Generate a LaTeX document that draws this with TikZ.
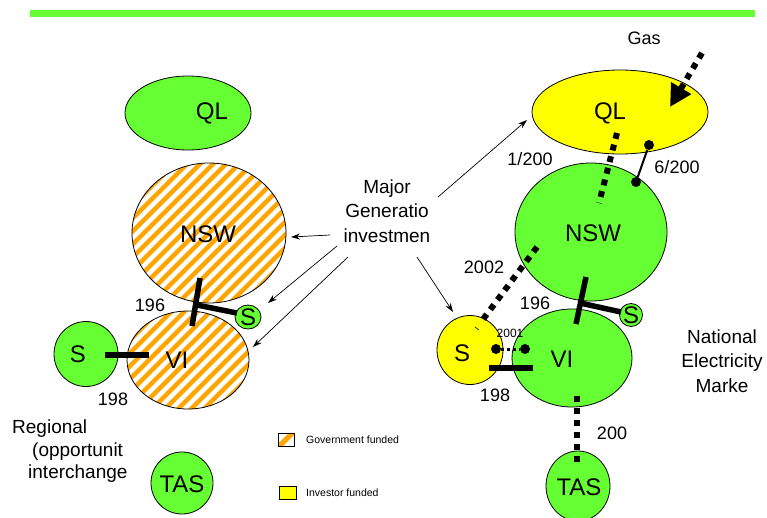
\documentclass[tikz,border=0pt]{standalone}
\usepackage{fontspec}
\setmainfont{Liberation Sans}
\usetikzlibrary{arrows.meta,shapes.geometric,calc}
\definecolor{grn}{HTML}{66FF33}
\definecolor{ylw}{HTML}{FFFF00}
\definecolor{orng}{HTML}{FFA500}
\tikzset{
  region/.style={ellipse, draw=black, line width=0.8pt, inner sep=0pt},
  greenreg/.style={region, fill=grn},
  yellowreg/.style={region, fill=ylw},
  hatched/.style={region, fill=white, path picture={
      \foreach \k in {-30,...,30}{
        \draw[orng, line width=4.5pt] ($(path picture bounding box.center)+(\k*13-170,170)$) -- ++(340,-340);
      }}},
  regtext/.style={font=\fontsize{24}{28}\selectfont, inner sep=0pt},
  lbl/.style={font=\fontsize{18}{22}\selectfont, inner sep=0pt},
  bigtxt/.style={font=\fontsize{19}{24.5}\selectfont, align=center, inner sep=0pt},
  legtxt/.style={font=\fontsize{10.5}{12}\selectfont, anchor=west, inner sep=0pt},
  bar/.style={line width=5.5pt},
  dots/.style={line width=6pt, dash pattern=on 6pt off 6pt},
  fine/.style={line width=3pt, dash pattern=on 3pt off 3pt},
  arr/.style={line width=0.7pt, -{Stealth[length=9pt,width=6pt]}},
  dot/.style={circle, fill=black, inner sep=0pt, minimum size=10pt}
}
\begin{document}
\begin{tikzpicture}[x=1pt,y=-1pt]
\useasboundingbox (0,0) rectangle (767,517);
\fill[grn] (30,10) rectangle (755,17);

% ---------- left side shapes ----------
\node[greenreg, minimum width=126pt, minimum height=74pt] (qlL) at (188,113) {};
\node[hatched, minimum width=154pt, minimum height=140pt] (nswL) at (209,233) {};
\node[hatched, minimum width=122pt, minimum height=98pt] (viL) at (188,360) {};
\node[greenreg, minimum width=26pt, minimum height=24pt] (ssL) at (248,317) {};
\node[greenreg, minimum width=64pt, minimum height=65pt] (sL) at (86,354) {};
\node[greenreg, minimum width=62pt, minimum height=62pt] (tasL) at (182,483) {};

% ---------- right side shapes ----------
\node[yellowreg, minimum width=176pt, minimum height=84pt] (qlR) at (620,112) {};
\node[greenreg, minimum width=152pt, minimum height=138pt] (nswR) at (591,232) {};
\node[greenreg, minimum width=120pt, minimum height=98pt] (viR) at (572,358) {};
\node[yellowreg, minimum width=66pt, minimum height=69pt] (sR) at (470,350) {};
\node[greenreg, minimum width=23pt, minimum height=23pt] (ssR) at (631,315) {};
\node[greenreg, minimum width=64pt, minimum height=70pt] (tasR) at (578,486) {};

% ---------- left connectors ----------
\coordinate (bLa) at (200,278);
\coordinate (bLb) at (192,326);
\coordinate (bLc) at (197,305);
\coordinate (bLd) at (237,313);
\draw[bar] (bLa) -- (bLb);
\draw[bar] (bLc) -- (bLd);
\coordinate (sLa) at (105,355);
\coordinate (sLb) at (149,355);
\draw[bar] (sLa) -- (sLb);

% ---------- right connectors ----------
\coordinate (bRa) at (586,277);
\coordinate (bRb) at (576,324);
\coordinate (bRc) at (580,303);
\coordinate (bRd) at (621,312);
\draw[bar] (bRa) -- (bRb);
\draw[bar] (bRc) -- (bRd);

\coordinate (gasS) at (702,53);
\coordinate (gasT) at (670,107);
\draw[dots, -{Triangle[length=22pt,width=22pt]}] (gasS) -- (gasT);

\coordinate (qnA) at (617,133);
\coordinate (qnB) at (599,203);
\draw[dots] (qnA) -- (qnB);

\node[dot] (d6a) at (649,145) {};
\node[dot] (d6b) at (636,182) {};
\draw[line width=2pt] (d6a) -- (d6b);

\coordinate (nsA) at (537,247);
\coordinate (nsB) at (481,322);
\draw[dots] (nsA) -- (nsB);
\coordinate (tkA) at (475,327);
\coordinate (tkB) at (479,330);
\draw[line width=0.6pt] (tkA) -- (tkB);

\node[dot] (d1a) at (496,349) {};
\node[dot] (d1b) at (525,349) {};
\draw[fine] (d1a) -- (d1b);

\coordinate (srA) at (489,368);
\coordinate (srB) at (533,368);
\draw[bar, line width=6pt] (srA) -- (srB);

\coordinate (vtA) at (577,396);
\coordinate (vtB) at (577,465);
\draw[dots] (vtA) -- (vtB);

% ---------- region texts ----------
\node[regtext] (qlLt) at (212,113) {QL};
\node[regtext] (nswLt) at (208,234) {NSW};
\node[regtext] (viLt) at (177,360) {VI};
\node[regtext] (ssLt) at (248,317) {S};
\node[regtext] (sLt) at (78,354) {S};
\node[regtext] (tasLt) at (182,484) {TAS};

\node[regtext] (qlRt) at (610,113) {QL};
\node[regtext] (nswRt) at (593,233) {NSW};
\node[regtext] (viRt) at (562,359) {VI};
\node[regtext] (sRt) at (462,353) {S};
\node[regtext] (ssRt) at (631,315) {S};
\node[regtext] (tasRt) at (579,487) {TAS};

% ---------- labels ----------
\node[lbl] (l196L) at (150,305) {196};
\node[lbl] (l198L) at (113,399) {198};
\node[lbl] (l196R) at (535,303) {196};
\node[lbl] (l198R) at (495,395) {198};
\node[lbl] (l2002) at (484,267) {2002};
\node[font=\fontsize{12}{14}\selectfont, inner sep=0pt] (l2001) at (510,333) {2001};
\node[lbl] (l1200) at (530,159) {1/200};
\node[lbl] (l6200) at (677,167) {6/200};
\node[lbl] (l200) at (612,433) {200};
\node[lbl] (lgas) at (644,38) {Gas};

\node[bigtxt] (nem) at (722,361) {National\\Electricity\\Marke};
\node[bigtxt] (major) at (387,211) {Major\\Generatio\\investmen};

\node[font=\fontsize{19}{24}\selectfont, anchor=west, inner sep=0pt] (reg1) at (12,429) {Regional};
\node[font=\fontsize{19}{24}\selectfont, anchor=west, inner sep=0pt] (reg2) at (32,452) {(opportunit};
\node[font=\fontsize{19}{24}\selectfont, anchor=west, inner sep=0pt] (reg3) at (28,474) {interchange};

% ---------- arrows from Major ----------
\coordinate (m1) at (330,235);
\coordinate (t1) at (291,237);
\coordinate (m2) at (337,246);
\coordinate (t2) at (268,303);
\coordinate (m3) at (348,257);
\coordinate (t3) at (253,347);
\coordinate (m4) at (438,197);
\coordinate (t4) at (527,120);
\coordinate (m5) at (417,257);
\coordinate (t5) at (453,312);
\draw[arr] (m1) -- (t1);
\draw[arr] (m2) -- (t2);
\draw[arr] (m3) -- (t3);
\draw[arr] (m4) -- (t4);
\draw[arr] (m5) -- (t5);

% ---------- legend ----------
\node[draw=black, line width=0.6pt, minimum width=16pt, minimum height=13pt, inner sep=0pt, fill=white,
  path picture={\draw[orng, line width=5pt] ($(path picture bounding box.center)+(-10,10)$) -- ++(20,-20);}]
  (legG) at (286,439.5) {};
\node[legtxt] (legGt) at (306,439.5) {Government funded};
\node[draw=black, line width=0.6pt, fill=ylw, minimum width=17pt, minimum height=13pt, inner sep=0pt]
  (legI) at (287.5,492.5) {};
\node[legtxt] (legIt) at (306,492.5) {Investor funded};
\end{tikzpicture}
\end{document}
